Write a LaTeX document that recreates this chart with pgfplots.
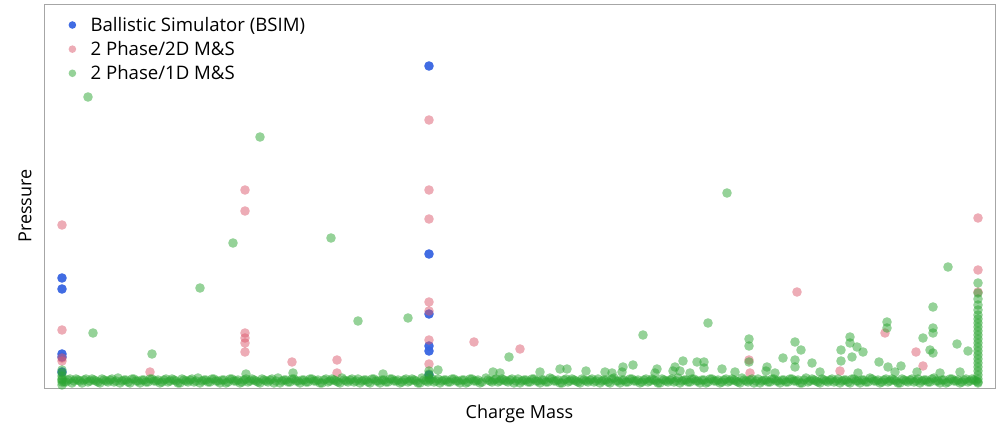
\documentclass[border=0pt]{standalone}
\usepackage{pgfplots}
\pgfplotsset{compat=1.18}
\usepackage{fontspec}
\setmainfont{Open Sans}
\definecolor{cblue}{RGB}{55,100,225}
\definecolor{cpink}{RGB}{220,90,110}
\definecolor{cgreen}{RGB}{44,165,50}
\begin{document}
\begin{tikzpicture}
\path[use as bounding box] (-44pt,-42pt) rectangle (955pt,388pt);
\begin{axis}[
  at={(0pt,0pt)}, anchor=south west,
  scale only axis, width=951pt, height=384pt,
  xmin=44, xmax=995, ymin=42, ymax=426,
  xtick=\empty, ytick=\empty,
  axis line style={draw=black!35, line width=0.8pt},
  font=\fontsize{18}{21}\selectfont,
  xlabel={Charge Mass}, ylabel={Pressure},
  xlabel style={at={(axis description cs:0.5,-0.068)}, anchor=center},
  ylabel style={at={(axis description cs:-0.02,0.474)}, anchor=center},
  legend image code/.code={\path (0pt,0pt) (24pt,0pt); \draw[#1,mark size=3.8pt] plot coordinates {(8pt,0pt)};},
  legend style={at={(axis description cs:0.0,1)}, anchor=north west, draw=none, fill=none,
     font=\fontsize{18.6}{21}\selectfont, row sep=4.5pt, inner xsep=20pt, inner ysep=11pt},
  legend cell align=left,
  clip=true,
]
\addplot[only marks, mark=*, mark size=4.8pt, mark options={draw opacity=0, fill=cblue, fill opacity=0.95}]
coordinates {(429,364)(429,176)(429,116)(429,84)(429,79)(429,55)
(62,152)(62,141)(62,76)(62,73)(62,58)};
\addlegendentry{Ballistic Simulator (BSIM)}
\addplot[only marks, mark=*, mark size=4.8pt, mark options={draw opacity=0, fill=cpink, fill opacity=0.5}]
coordinates {(62,205)(62,100)(62,72)(62,69)
(429,310)(429,240)(429,211)(429,128)(429,119)(429,90)(429,66)
(245,240)(245,219)(245,97)(245,92)(245,87)(245,78)
(292,68)(337,70)(337,57)(150,58)(474,88)(520,81)(797,138)
(978,212)(978,160)(978,138)(885,97)(916,78)(923,64)
(749,70)(750,57)(840,59)};
\addlegendentry{2 Phase/2D M\&S}
\addplot[only marks, mark=*, mark size=4.8pt, mark options={draw opacity=0, fill=cgreen, fill opacity=0.5}]
coordinates {
(88,333)(260,293)(233,187)(200,142)(93,97)(152,76)(331,192)(358,109)(408,112)
(727,237)(948,163)(708,107)(643,95)(509,73)
(749,91)(749,84)(749,68)(795,88)(801,80)(783,72)(795,70)(795,63)(812,67)
(850,93)(850,87)(857,83)(863,78)(841,80)(841,69)(852,73)
(887,108)(887,102)(933,123)(933,102)(933,97)(923,92)(930,80)(933,77)
(957,86)(968,79)(879,68)(888,63)(901,64)
(560,61)(567,61)(586,59)(623,63)(633,65)(622,58)
(683,69)(697,68)(704,68)(704,62)(675,63)(673,59)(680,59)(657,61)(722,61)
(767,63)(766,59)(438,60)(246,56)(293,57)(383,56)(917,58)
(493,58)(500,57)(540,58)(605,58)(612,57)(655,57)(690,57)(735,58)(775,57)(820,58)(858,57)(895,58)(940,57)(960,58)
(62,45)(62,48)(62,51)(62,54)(62,57)(62,60)
(429,52)(429,56)(429,59)
(978,47)(978,51)(978,55)(978,59)(978,63)(978,67)(978,71)(978,75)(978,79)(978,83)
(978,87)(978,91)(978,95)(978,99)(978,103)(978,107)(978,111)(978,115)(978,120)(978,125)(978,131)(978,137)(978,147)
(62,50)(66,48)(70,51)(74,49)(78,50)(82,47)(86,51)(90,49)(94,50)(98,48)
(102,51)(106,49)(110,50)(114,48)(118,52)(122,49)(126,50)(130,47)(134,51)(138,49)
(142,50)(146,48)(150,51)(154,49)(158,50)(162,48)(166,51)(170,49)(174,50)(178,47)
(182,51)(186,49)(190,50)(194,48)(198,52)(202,49)(206,50)(210,48)(214,51)(218,49)
(222,50)(226,47)(230,51)(234,49)(238,50)(242,48)(246,51)(250,49)(254,50)(258,48)
(262,51)(266,49)(270,50)(274,47)(278,52)(282,49)(286,50)(290,48)(294,51)(298,49)
(302,50)(306,48)(310,51)(314,49)(318,50)(322,47)(326,51)(330,49)(334,50)(338,48)
(342,52)(346,49)(350,50)(354,48)(358,51)(362,49)(366,50)(370,47)(374,51)(378,49)
(382,50)(386,48)(390,51)(394,49)(398,50)(402,48)(406,51)(410,49)(414,50)(418,47)
(422,52)(426,49)(430,50)(434,48)(438,51)(442,49)(446,50)(450,48)(454,51)(458,49)
(462,50)(466,47)(470,51)(474,49)(478,50)(482,48)(486,52)(490,49)(494,50)(498,48)
(502,51)(506,49)(510,50)(514,47)(518,51)(522,49)(526,50)(530,48)(534,51)(538,49)
(542,50)(546,48)(550,52)(554,49)(558,50)(562,47)(566,51)(570,49)(574,50)(578,48)
(582,51)(586,49)(590,50)(594,48)(598,51)(602,49)(606,50)(610,47)(614,52)(618,49)
(622,50)(626,48)(630,51)(634,49)(638,50)(642,48)(646,51)(650,49)(654,50)(658,47)
(662,51)(666,49)(670,50)(674,48)(678,52)(682,49)(686,50)(690,48)(694,51)(698,49)
(702,50)(706,47)(710,51)(714,49)(718,50)(722,48)(726,51)(730,49)(734,50)(738,48)
(742,52)(746,49)(750,50)(754,47)(758,51)(762,49)(766,50)(770,48)(774,51)(778,49)
(782,50)(786,48)(790,51)(794,49)(798,50)(802,47)(806,52)(810,49)(814,50)(818,48)
(822,51)(826,49)(830,50)(834,48)(838,51)(842,49)(846,50)(850,47)(854,51)(858,49)
(862,50)(866,48)(870,52)(874,49)(878,50)(882,48)(886,51)(890,49)(894,50)(898,47)
(902,51)(906,49)(910,50)(914,48)(918,51)(922,49)(926,50)(930,48)(934,52)(938,49)
(942,50)(946,47)(950,51)(954,49)(958,50)(962,48)(966,51)(970,49)(974,50)(978,48)
(64,48)(68,50)(72,47)(76,51)(80,49)(84,50)(88,48)(92,51)(96,49)(100,47)
(104,50)(108,48)(112,51)(116,49)(120,47)(124,50)(128,48)(132,51)(136,49)(140,47)
(144,50)(148,48)(152,51)(156,49)(160,47)(164,50)(168,48)(172,51)(176,49)(180,47)
(184,50)(188,48)(192,51)(196,49)(200,47)(204,50)(208,48)(212,51)(216,49)(220,47)
(224,50)(228,48)(232,51)(236,49)(240,47)(244,50)(248,48)(252,51)(256,49)(260,47)
(264,50)(268,48)(272,51)(276,49)(280,47)(284,50)(288,48)(292,51)(296,49)(300,47)
(304,50)(308,48)(312,51)(316,49)(320,47)(324,50)(328,48)(332,51)(336,49)(340,47)
(344,50)(348,48)(352,51)(356,49)(360,47)(364,50)(368,48)(372,51)(376,49)(380,47)
(384,50)(388,48)(392,51)(396,49)(400,47)(404,50)(408,48)(412,51)(416,49)(420,47)
(424,50)(428,48)(432,51)(436,49)(440,47)(444,50)(448,48)(452,51)(456,49)(460,47)
(464,50)(468,48)(472,51)(476,49)(480,47)(488,50)(492,48)(496,51)(500,49)
(504,50)(508,48)(512,51)(516,49)(520,47)(524,50)(528,48)(532,51)(536,49)(540,47)
(544,50)(548,48)(552,51)(556,49)(560,47)(564,50)(568,48)(572,51)(576,49)(580,47)
(584,50)(588,48)(592,51)(596,49)(600,47)(604,50)(608,48)(612,51)(616,49)(620,47)
(624,50)(628,48)(632,51)(636,49)(640,47)(644,50)(648,48)(652,51)(656,49)(660,47)
(664,50)(668,48)(672,51)(676,49)(680,47)(684,50)(688,48)(692,51)(696,49)(700,47)
(704,50)(708,48)(712,51)(716,49)(720,47)(724,50)(728,48)(732,51)(736,49)(740,47)
(744,50)(748,48)(752,51)(756,49)(760,47)(764,50)(768,48)(772,51)(776,49)(780,47)
(784,50)(788,48)(792,51)(796,49)(800,47)(804,50)(808,48)(812,51)(816,49)(820,47)
(824,50)(828,48)(832,51)(836,49)(840,47)(844,50)(848,48)(852,51)(856,49)(860,47)
(864,50)(868,48)(872,51)(876,49)(880,47)(884,50)(888,48)(892,51)(896,49)(900,47)
(904,50)(908,48)(912,51)(916,49)(920,47)(924,50)(928,48)(932,51)(936,49)(940,47)
(944,50)(948,48)(952,51)(956,49)(960,47)(964,50)(968,48)(972,51)(976,49)
};
\addlegendentry{2 Phase/1D M\&S}
\end{axis}
\end{tikzpicture}
\end{document}
